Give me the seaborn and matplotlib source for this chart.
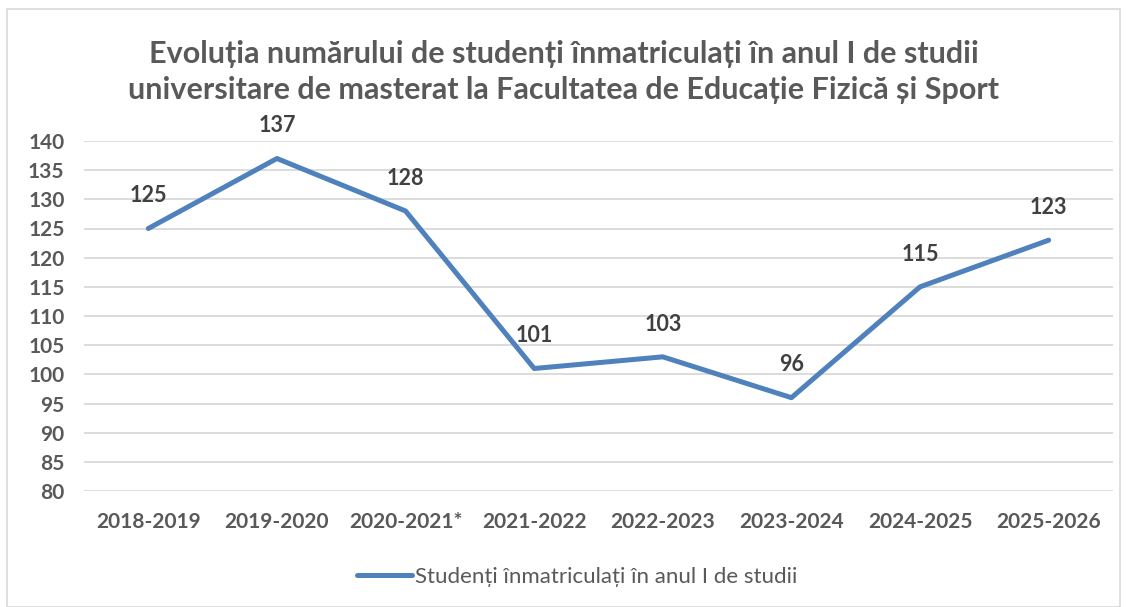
import matplotlib
matplotlib.use('Agg')
import matplotlib.pyplot as plt
import matplotlib.patches as mpatches
import seaborn as sns
import pandas as pd

# data
years = ['2018-2019', '2019-2020', '2020-2021*', '2021-2022', '2022-2023',
         '2023-2024', '2024-2025', '2025-2026']
students = [125, 137, 128, 101, 103, 96, 115, 123]
series_name = 'Studenți înmatriculați în anul I de studii'
title = ('Evoluția numărului de studenți înmatriculați în anul I de studii\n'
         'universitare de masterat la Facultatea de Educație Fizică și Sport')
y_ticks = list(range(80, 141, 5))

sns.set_theme(style='white')
plt.rcParams['font.family'] = ['Lato', 'DejaVu Sans']

df = pd.DataFrame({'year': years, 'value': students, 'series': series_name})
df['pos'] = range(len(df))

fig = plt.figure(figsize=(11.27, 6.07), dpi=100)
ax = fig.add_axes([84 / 1127, 1 - 491 / 607, (1113 - 84) / 1127, 350 / 607])

sns.lineplot(data=df, x='pos', y='value', hue='series', palette=['#4F81BD'],
             linewidth=3.6, ax=ax, solid_capstyle='round')

ax.set_xlim(-0.5, len(years) - 0.5)
ax.set_ylim(80, 140)
ax.set_yticks(y_ticks)
ax.set_xticks(df['pos'])
ax.set_xticklabels(years)
ax.set_xlabel('')
ax.set_ylabel('')
ax.grid(axis='y', color='#d9d9d9', linewidth=1.3)
ax.set_axisbelow(True)
for s in ax.spines.values():
    s.set_visible(False)
ax.tick_params(axis='both', length=0, labelcolor='#595959', labelsize=15)
ax.tick_params(axis='x', pad=15)
ax.tick_params(axis='y', pad=14)
for lbl in ax.get_xticklabels() + ax.get_yticklabels():
    lbl.set_fontweight('bold')

for x, v in zip(df['pos'], df['value']):
    ax.annotate(str(v), (x, v), xytext=(0, 16), textcoords='offset points',
                ha='center', va='bottom', fontsize=15.5, fontweight='bold',
                color='#404040')

fig.text(0.5, 1 - 72 / 607, title, ha='center', va='center', fontsize=22,
         fontweight='bold', color='#595959', linespacing=1.32)

leg = ax.legend(loc='center', bbox_to_anchor=(0.479, (491 - 577) / 350),
                frameon=False, fontsize=16, handlelength=2.5, handletextpad=0.1)
for t in leg.get_texts():
    t.set_color('#595959')

fig.patches.append(mpatches.Rectangle((7 / 1127, 0), 1113 / 1127, 1 - 9 / 607,
                                      transform=fig.transFigure, fill=False,
                                      edgecolor='#d9d9d9', linewidth=1.2))

fig.savefig('out.png', dpi=100)
